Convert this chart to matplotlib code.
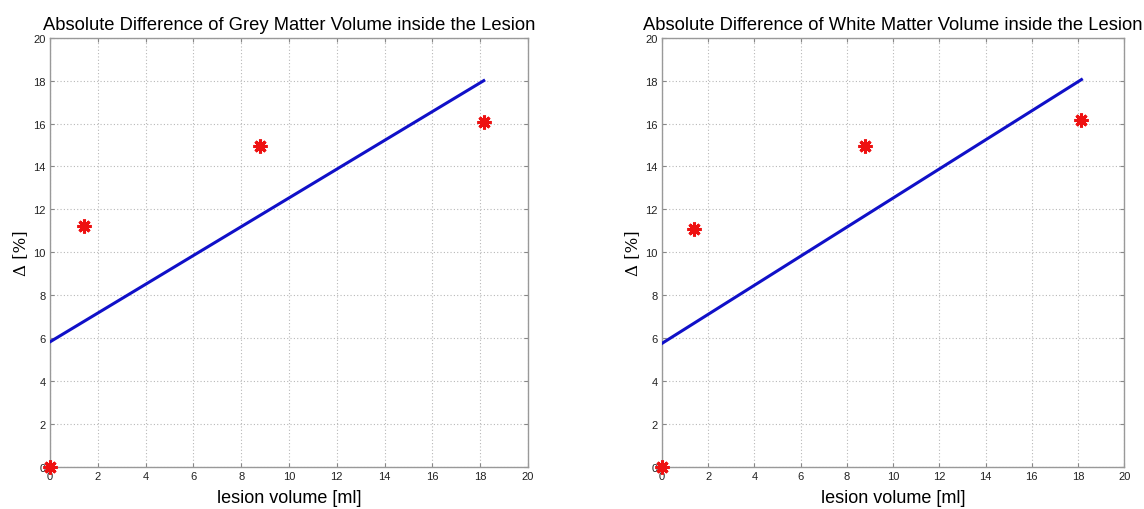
import matplotlib
matplotlib.use("Agg")
import matplotlib.pyplot as plt
import numpy as np

plt.rcParams['font.family'] = ['Liberation Sans', 'DejaVu Sans']

titles = ["Absolute Difference of Grey Matter Volume inside the Lesion",
          "Absolute Difference of White Matter Volume inside the Lesion"]
grey_x = [0.0, 1.43, 8.78, 18.15]
grey_y = [0.0, 11.24, 14.93, 16.05]
grey_fit_x = [0.0, 18.15]
grey_fit_y = [5.82, 18.0]
white_x = [0.0, 1.4, 8.8, 18.15]
white_y = [0.0, 11.1, 14.95, 16.15]
white_fit_x = [0.0, 18.15]
white_fit_y = [5.75, 18.05]
xticks = list(range(0, 21, 2))
yticks = list(range(0, 21, 2))

fig = plt.figure(figsize=(11.44, 5.10), dpi=100)
ax1 = fig.add_axes([0.0437, 0.083, 0.4178, 0.841])
ax2 = fig.add_axes([0.5787, 0.083, 0.4040, 0.841])

data = [(grey_x, grey_y, grey_fit_x, grey_fit_y), (white_x, white_y, white_fit_x, white_fit_y)]
for ax, title, (px, py, fx, fy) in zip([ax1, ax2], titles, data):
    ax.plot(fx, fy, color='#1010c8', lw=2.2, zorder=3)
    ax.plot(px, py, linestyle='none', marker=(8, 2, 0), markersize=10,
            markeredgewidth=2.2, color='#ee1111', zorder=4, clip_on=False)
    ax.set_xlim(0, 20)
    ax.set_ylim(0, 20)
    ax.set_xticks(xticks)
    ax.set_yticks(yticks)
    ax.tick_params(direction='in', top=True, right=True, labelsize=8,
                   length=3, color='#888888', labelcolor='#222222', pad=3)
    ax.grid(True, linestyle=(0, (1, 2)), color='#b8b8b8', lw=0.8)
    for s in ax.spines.values():
        s.set_color('#999999')
        s.set_linewidth(1.0)
    ax.set_title(title, fontsize=13.2, pad=6)
    ax.set_xlabel('lesion volume [ml]', fontsize=13, labelpad=6)
    ax.set_ylabel('Δ [%]', fontsize=12, family=['DejaVu Serif'], labelpad=3)

fig.savefig('out.png', dpi=100, facecolor='white')
